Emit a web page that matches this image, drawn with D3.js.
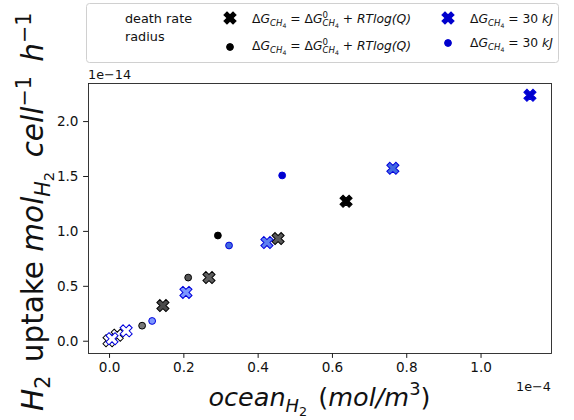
<!DOCTYPE html>
<html><head><meta charset="utf-8">
<script src="https://cdn.jsdelivr.net/npm/d3@7"></script>
<style>
body{margin:0;background:#fff}
svg{display:block;font-family:"DejaVu Sans",sans-serif}
</style>
</head><body>
<svg id="chart" width="574" height="420"></svg>
<script>
// x: ocean H2 concentration (×1e-4 mol/m^3), y: H2 uptake (×1e-14 mol/cell/h)
// shade: relative intensity of the marker fill within each series
const deathGibbsX = [0.0, 0.022, 0.145, 0.269, 0.455, 0.638];
const deathGibbsY = [0.0, 0.05, 0.32, 0.575, 0.93, 1.27];
const deathGibbsShade = [0, 0, 0.71, 0.63, 0.65, 1];

const radiusGibbsX = [0.089, 0.213, 0.293];
const radiusGibbsY = [0.137, 0.575, 0.958];
const radiusGibbsShade = [0.53, 0.67, 1];

const death30X = [0.008, 0.046, 0.207, 0.425, 0.764, 1.133];
const death30Y = [0.018, 0.09, 0.44, 0.894, 1.57, 2.235];
const death30Shade = [0, 0, 0.5, 0.65, 0.8, 1];

const radius30X = [0.116, 0.323, 0.466];
const radius30Y = [0.18, 0.867, 1.505];
const radius30Shade = [0.5, 0.8, 1];

const xTicks = [0.0, 0.2, 0.4, 0.6, 0.8, 1.0];
const yTicks = [0.0, 0.5, 1.0, 1.5, 2.0];
const xOffsetLabel = "1e\u22124";
const yOffsetLabel = "1e\u221214";

const svg = d3.select("#chart");
const box = {left: 88, right: 551, top: 83, bottom: 353};

// axis limits with a 5% margin around the data
function padded(arrs) {
  const all = arrs.flat();
  const lo = d3.min(all), hi = d3.max(all), m = (hi - lo) * 0.05;
  return [lo - m, hi + m];
}
const x = d3.scaleLinear()
  .domain(padded([deathGibbsX, radiusGibbsX, death30X, radius30X]))
  .range([box.left, box.right]);
const y = d3.scaleLinear()
  .domain(padded([deathGibbsY, radiusGibbsY, death30Y, radius30Y]))
  .range([box.bottom, box.top]);

const greyFill = d3.scaleLinear().domain([0, 1]).range(["#ffffff", "#000000"]);
const blueFill = d3.scaleLinear().domain([0, 0.5, 0.8, 1])
  .range(["#ffffff", "#7b96ff", "#4169e1", "#0000cd"]);

const TICK_FONT = 13.6;

// axes
const xAxis = svg.append("g")
  .attr("transform", `translate(0,${box.bottom})`)
  .call(d3.axisBottom(x).tickValues(xTicks).tickFormat(d3.format(".1f"))
    .tickSize(4.9).tickPadding(4.6));
const yAxis = svg.append("g")
  .attr("transform", `translate(${box.left},0)`)
  .call(d3.axisLeft(y).tickValues(yTicks).tickFormat(d3.format(".1f"))
    .tickSize(4.9).tickPadding(4.6));
[xAxis, yAxis].forEach(a => {
  a.select(".domain").remove();
  a.selectAll(".tick line").attr("stroke", "#000").attr("stroke-width", 0.9);
  a.selectAll(".tick text").attr("font-family", "DejaVu Sans")
    .attr("font-size", TICK_FONT).attr("fill", "#111");
});

// frame
svg.append("rect")
  .attr("x", box.left + 0.5).attr("y", box.top + 0.5)
  .attr("width", box.right - box.left).attr("height", box.bottom - box.top)
  .attr("fill", "none").attr("stroke", "#222").attr("stroke-width", 0.9);

// scale offset labels
svg.append("text").attr("x", box.left).attr("y", 79)
  .attr("font-size", 12.8).attr("fill", "#111").text(yOffsetLabel);
svg.append("text").attr("x", box.right).attr("y", 391)
  .attr("text-anchor", "end").attr("font-size", 12.8).attr("fill", "#111").text(xOffsetLabel);

// markers
const xSymbol = d3.symbol().type(d3.symbolCross).size(92);
const plot = svg.append("g");

function drawCrosses(xs, ys, shades, fillScale, edge) {
  plot.append("g").selectAll("path")
    .data(xs.map((v, i) => ({x: v, y: ys[i], s: shades[i]})))
    .join("path")
    .attr("d", xSymbol)
    .attr("transform", d => `translate(${x(d.x)},${y(d.y)}) rotate(45)`)
    .attr("fill", d => fillScale(d.s))
    .attr("stroke", edge).attr("stroke-width", 1);
}
function drawDots(xs, ys, shades, fillScale, edge) {
  plot.append("g").selectAll("circle")
    .data(xs.map((v, i) => ({x: v, y: ys[i], s: shades[i]})))
    .join("circle")
    .attr("cx", d => x(d.x)).attr("cy", d => y(d.y)).attr("r", 3.4)
    .attr("fill", d => fillScale(d.s))
    .attr("stroke", edge).attr("stroke-width", 1);
}
drawCrosses(deathGibbsX, deathGibbsY, deathGibbsShade, greyFill, "#000");
drawDots(radiusGibbsX, radiusGibbsY, radiusGibbsShade, greyFill, "#000");
drawCrosses(death30X, death30Y, death30Shade, blueFill, "#0000dd");
drawDots(radius30X, radius30Y, radius30Shade, blueFill, "#0000dd");

// math-text layout in one <text>: parts are {t, i: italic, s: scale,
// dy: baseline shift in em (down +), stack: restart at previous part's x, gap: extra advance px}
function mathText(parent, parts, size) {
  const g = parent.append("g");
  const text = g.append("text").attr("fill", "#111").attr("xml:space", "preserve")
    .style("white-space", "pre");
  let cx = 0, prevStart = 0;
  parts.forEach(p => {
    const fs = size * (p.s || 1);
    const startX = p.stack ? prevStart : cx;
    const ts = text.append("tspan")
      .attr("x", startX).attr("y", (p.dy || 0) * size)
      .attr("font-size", fs)
      .attr("font-style", p.i ? "italic" : "normal")
      .text(p.t);
    const w = ts.node().getComputedTextLength();
    prevStart = startX;
    cx = Math.max(cx, startX + w + (p.gap || 0));
  });
  return {g, width: cx};
}

const sub = 0.7, subsub = 0.5;
const gCH4 = [
  {t: "\u0394"}, {t: "G", i: true},
  {t: "CH", i: true, s: sub, dy: 0.25}, {t: "4", s: subsub, dy: 0.38}
];
const gibbsLabel = gCH4.concat([
  {t: " = "}, {t: "\u0394"}, {t: "G", i: true},
  {t: "0", s: sub, dy: -0.42},
  {t: "CH", i: true, s: sub, dy: 0.27, stack: true}, {t: "4", s: subsub, dy: 0.4},
  {t: " + "}, {t: "RTlog(Q)", i: true}
]);
const fixedLabel = gCH4.concat([{t: " = 30 "}, {t: "kJ", i: true}]);

// legend
const LEG = 12.8, LEGMATH = 12.3;
svg.append("rect").attr("x", 86.5).attr("y", 3.5).attr("width", 472).attr("height", 59)
  .attr("rx", 3).attr("fill", "#fff").attr("stroke", "#d0d0d0").attr("stroke-width", 1);
svg.append("text").attr("x", 125).attr("y", 23).attr("font-size", LEG).attr("fill", "#111").text("death rate");
svg.append("text").attr("x", 125).attr("y", 41).attr("font-size", LEG).attr("fill", "#111").text("radius");

const legendItems = [
  {mx: 230, my: 18, kind: "x", fill: "#000", edge: "#000", tx: 252, ty: 23, parts: gibbsLabel},
  {mx: 230, my: 47, kind: "o", fill: "#000", edge: "#000", tx: 252, ty: 50, parts: gibbsLabel},
  {mx: 448, my: 18, kind: "x", fill: "#0000cd", edge: "#0000cd", tx: 470, ty: 23, parts: fixedLabel},
  {mx: 448, my: 43, kind: "o", fill: "#0000cd", edge: "#0000cd", tx: 470, ty: 47, parts: fixedLabel}
];
legendItems.forEach(it => {
  if (it.kind === "x") {
    svg.append("path").attr("d", xSymbol)
      .attr("transform", `translate(${it.mx},${it.my}) rotate(45)`)
      .attr("fill", it.fill).attr("stroke", it.edge).attr("stroke-width", 1);
  } else {
    svg.append("circle").attr("cx", it.mx).attr("cy", it.my).attr("r", 3.4)
      .attr("fill", it.fill).attr("stroke", it.edge).attr("stroke-width", 1);
  }
  const m = mathText(svg, it.parts, LEGMATH);
  m.g.attr("transform", `translate(${it.tx},${it.ty})`);
});

// axis titles
const xl = mathText(svg, [
  {t: "ocean", i: true}, {t: "H", i: true, s: sub, dy: 0.25}, {t: "2", s: subsub, dy: 0.38, gap: 3},
  {t: " ("}, {t: "mol/m", i: true}, {t: "3", s: sub, dy: -0.42}, {t: ")"}
], 25.5);
xl.g.attr("transform", `translate(${(box.left + box.right) / 2 - xl.width / 2},406)`);

const yl = mathText(svg, [
  {t: "H", i: true}, {t: "2", s: sub, dy: 0.25, gap: 4}, {t: " uptake "},
  {t: "mol", i: true}, {t: "H", i: true, s: sub, dy: 0.25}, {t: "2", s: subsub, dy: 0.38, gap: 5},
  {t: " cell", i: true}, {t: "\u22121", s: sub, dy: -0.42, gap: 5},
  {t: " h", i: true}, {t: "\u22121", s: sub, dy: -0.42}
], 29.5);
yl.g.attr("transform", `translate(43,411) rotate(-90)`);
</script>
</body></html>
